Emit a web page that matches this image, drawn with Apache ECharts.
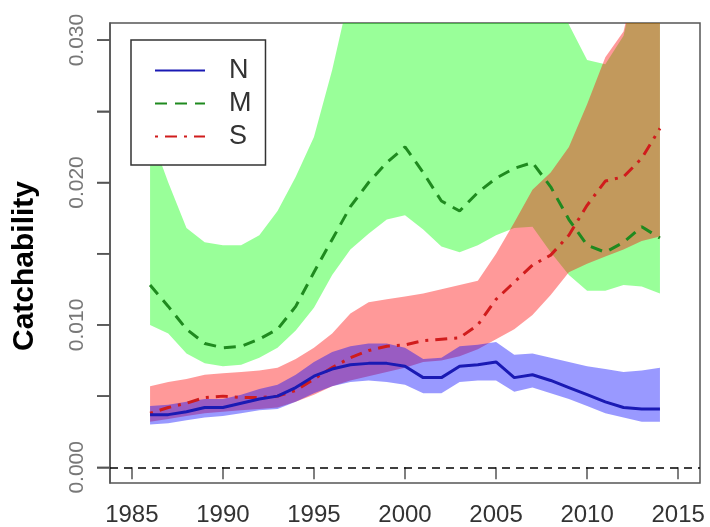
<!DOCTYPE html>
<html>
<head>
<meta charset="utf-8">
<script src="https://cdn.jsdelivr.net/npm/echarts@6/dist/echarts.min.js"></script>
<style>
  html, body { margin: 0; padding: 0; background: #fff; }
  #main { width: 710px; height: 527px; }
</style>
</head>
<body>
<div id="main"></div>
<script>
var years = [1986,1987,1988,1989,1990,1991,1992,1993,1994,1995,1996,1997,1998,1999,2000,
             2001,2002,2003,2004,2005,2006,2007,2008,2009,2010,2011,2012,2013,2014];

// N (blue)
var nMid = [0.0037,0.0037,0.0039,0.0042,0.0042,0.0045,0.0048,0.0050,0.0056,0.0064,0.0069,0.0072,0.0073,0.0073,0.0071,
            0.0063,0.0063,0.0071,0.0072,0.0074,0.0063,0.0065,0.0061,0.0056,0.0051,0.0046,0.0042,0.0041,0.0041];
var nLo  = [0.0030,0.0031,0.0033,0.0035,0.0036,0.0038,0.0040,0.0041,0.0046,0.0052,0.0057,0.0060,0.0061,0.0060,0.0058,
            0.0052,0.0052,0.0060,0.0061,0.0061,0.0053,0.0056,0.0052,0.0048,0.0043,0.0038,0.0035,0.0032,0.0032];
var nHi  = [0.0043,0.0044,0.0046,0.0048,0.0048,0.0051,0.0055,0.0058,0.0065,0.0074,0.0081,0.0085,0.0087,0.0087,0.0084,
            0.0076,0.0077,0.0085,0.0086,0.0088,0.0079,0.0080,0.0077,0.0074,0.0071,0.0069,0.0067,0.0068,0.0070];

// M (green)
var mMid = [0.0128,0.0113,0.0097,0.0087,0.0084,0.0085,0.0090,0.0097,0.0113,0.0137,0.0160,0.0183,0.0200,0.0214,0.0225,
            0.0207,0.0187,0.0180,0.0193,0.0203,0.0210,0.0214,0.0197,0.0174,0.0156,0.0151,0.0158,0.0169,0.0161];
var mLo  = [0.0100,0.0094,0.0080,0.0073,0.0071,0.0072,0.0077,0.0084,0.0096,0.0112,0.0135,0.0153,0.0164,0.0174,0.0177,
            0.0167,0.0155,0.0151,0.0156,0.0163,0.0168,0.0169,0.0151,0.0135,0.0124,0.0124,0.0128,0.0127,0.0122];
var mHi  = [0.0235,0.0200,0.0168,0.0158,0.0156,0.0156,0.0163,0.0180,0.0204,0.0232,0.0279,0.0335,0.0360,0.0370,0.0375,
            0.0370,0.0365,0.0365,0.0365,0.0365,0.0360,0.0350,0.0333,0.0311,0.0286,0.0283,0.0303,0.0360,0.0370];

// S (red)
var sMid = [0.0038,0.0042,0.0045,0.0049,0.0050,0.0049,0.0049,0.0050,0.0054,0.0062,0.0070,0.0077,0.0082,0.0085,0.0086,
            0.0089,0.0090,0.0091,0.0100,0.0118,0.0130,0.0142,0.0149,0.0163,0.0184,0.0201,0.0204,0.0217,0.0238];
var sLo  = [0.0032,0.0034,0.0036,0.0038,0.0039,0.0040,0.0041,0.0042,0.0046,0.0051,0.0057,0.0061,0.0064,0.0067,0.0070,
            0.0074,0.0075,0.0078,0.0083,0.0090,0.0097,0.0107,0.0121,0.0137,0.0143,0.0148,0.0153,0.0159,0.0162];
var sHi  = [0.0057,0.0060,0.0062,0.0065,0.0066,0.0067,0.0068,0.0070,0.0076,0.0084,0.0094,0.0108,0.0116,0.0118,0.0120,
            0.0122,0.0125,0.0128,0.0131,0.0150,0.0172,0.0195,0.0207,0.0225,0.0255,0.0288,0.0306,0.0360,0.0380];

var xTicks = [1985, 1990, 1995, 2000, 2005, 2010, 2015];
var yTicks = [0, 0.005, 0.010, 0.015, 0.020, 0.025, 0.030];
var yLabels = [0, 0.010, 0.020, 0.030];

function pairs(vals) {
  return years.map(function (y, i) { return [y, vals[i]]; });
}

var font = 'Liberation Sans, Arial, Helvetica, sans-serif';

// shaded band: polygon along upper edge and back along lower edge
function band(lo, hi, color) {
  return {
    type: 'custom', silent: true, clip: true,
    data: [[years[0], lo[0]]],
    renderItem: function (params, api) {
      var pts = [];
      for (var i = 0; i < years.length; i++) pts.push(api.coord([years[i], hi[i]]));
      for (var j = years.length - 1; j >= 0; j--) pts.push(api.coord([years[j], lo[j]]));
      var cs = params.coordSys;
      return {
        type: 'polygon',
        shape: { points: pts },
        style: { fill: color, stroke: null },
        clipPath: { type: 'rect', shape: { x: cs.x, y: cs.y, width: cs.width, height: cs.height } }
      };
    }
  };
}

var chart = echarts.init(document.getElementById('main'));

var series = [
  band(mLo, mHi, 'rgba(0,255,0,0.4)'),
  {
    name: 'M', type: 'line', data: pairs(mMid), symbol: 'none',
    lineStyle: { color: '#1f8a1f', width: 3, type: [12, 8] }
  },
  band(sLo, sHi, 'rgba(255,0,0,0.4)'),
  {
    name: 'S', type: 'line', data: pairs(sMid), symbol: 'none',
    lineStyle: { color: '#d01c1c', width: 3, type: [3, 7, 12, 7] }
  },
  band(nLo, nHi, 'rgba(0,0,255,0.4)'),
  {
    name: 'N', type: 'line', data: pairs(nMid), symbol: 'none',
    lineStyle: { color: '#1a1ab4', width: 3 },
    markLine: {
      silent: true, symbol: ['none', 'none'],
      label: { show: false },
      lineStyle: { color: '#000', width: 1.5, type: [8, 6] },
      data: [{ yAxis: 0 }]
    }
  }
];

chart.setOption({
  animation: false,
  grid: {
    left: 110, top: 23, right: 10, bottom: 44,
    show: true, borderColor: '#555', borderWidth: 1.5
  },
  legend: {
    data: ['N', 'M', 'S'],
    orient: 'vertical',
    left: 131, top: 40,
    padding: [17, 14, 15, 23],
    itemWidth: 50, itemHeight: 14, itemGap: 6,
    backgroundColor: '#fff',
    borderColor: '#333', borderWidth: 1.5,
    itemStyle: { opacity: 0 },
    textStyle: { fontSize: 27, color: '#333', fontFamily: font, padding: [0, 0, 0, 19] }
  },
  xAxis: {
    type: 'value', min: 1983.8, max: 2016.2,
    splitLine: { show: false },
    axisLine: { show: false },
    axisTick: { show: true, length: 12, customValues: xTicks, lineStyle: { color: '#555', width: 1.5 } },
    axisLabel: {
      customValues: xTicks, margin: 20, fontSize: 24, color: '#333', fontFamily: font,
      formatter: function (v) { return String(v); }
    }
  },
  yAxis: {
    type: 'value', min: -0.0011, max: 0.0312,
    name: 'Catchability', nameLocation: 'middle', nameGap: 70,
    nameTextStyle: { fontSize: 30, fontWeight: 'bold', color: '#000', fontFamily: font, padding: [0, 26, 0, 0] },
    splitLine: { show: false },
    axisLine: { show: true, onZero: false, lineStyle: { color: '#555', width: 1.5 } },
    axisTick: { show: true, length: 13, customValues: yTicks, lineStyle: { color: '#555', width: 1.5 } },
    axisLabel: {
      customValues: yLabels, rotate: 90, margin: 22, fontSize: 21, color: '#777', fontFamily: font,
      formatter: function (v) { return v.toFixed(3); }
    }
  },
  series: series
});

// left tick marks, placed through the grid's y scale, on a top layer
var tickMarks = [];
yTicks.forEach(function (v) {
  var p = chart.convertToPixel({ gridIndex: 0 }, [1990, v]);
  if (p && isFinite(p[1])) {
    tickMarks.push({
      type: 'line', silent: true, zlevel: 1, z: 100,
      shape: { x1: 97, y1: p[1], x2: 110, y2: p[1] },
      style: { stroke: '#555', lineWidth: 1.5 }
    });
  }
});
chart.setOption({ graphic: { elements: tickMarks } });
</script>
</body>
</html>
